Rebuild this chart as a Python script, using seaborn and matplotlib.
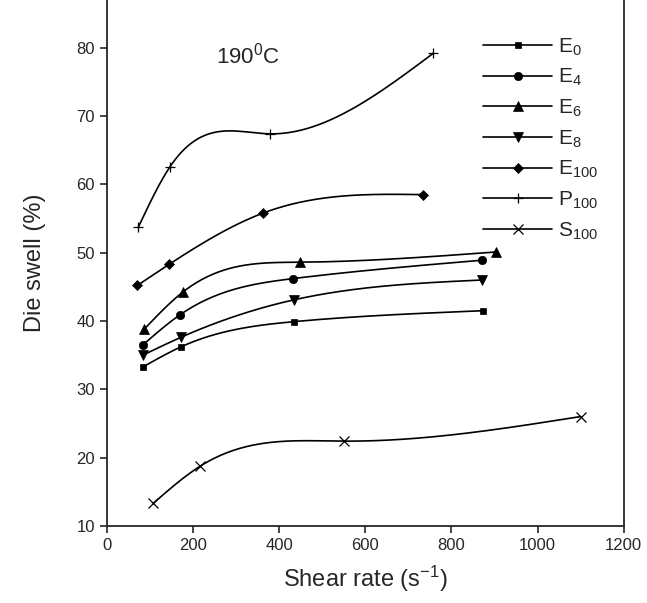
import numpy as np
import matplotlib
matplotlib.use('Agg')
import matplotlib.pyplot as plt
from matplotlib.lines import Line2D
import seaborn as sns

# data
e0_x = [85, 172, 435, 874]
e0_y = [33.3, 36.2, 39.9, 41.5]
e4_x = [84, 170, 432, 872]
e4_y = [36.5, 40.9, 46.2, 48.9]
e6_x = [87, 178, 448, 903]
e6_y = [38.8, 44.3, 48.6, 50.1]
e8_x = [84, 172, 435, 872]
e8_y = [35.0, 37.6, 43.1, 46.0]
e100_x = [71, 145, 363, 733]
e100_y = [45.2, 48.3, 55.8, 58.5]
p100_x = [73, 147, 379, 758]
p100_y = [53.7, 62.6, 67.4, 79.2]
s100_x = [108, 216, 551, 1100]
s100_y = [13.3, 18.7, 22.4, 26.0]

names = ['E$_{0}$', 'E$_{4}$', 'E$_{6}$', 'E$_{8}$', 'E$_{100}$', 'P$_{100}$', 'S$_{100}$']
xs = [e0_x, e4_x, e6_x, e8_x, e100_x, p100_x, s100_x]
ys = [e0_y, e4_y, e6_y, e8_y, e100_y, p100_y, s100_y]
markers = ['s', 'o', '^', 'v', 'D', '+', 'x']
msizes = [5, 6, 6.5, 6.5, 5.5, 7, 6.5]


def smooth(x, y, n=200):
    # natural cubic spline through the points, only for drawing the curve
    x = np.asarray(x, float)
    y = np.asarray(y, float)
    k = len(x)
    h = np.diff(x)
    A = np.zeros((k, k))
    b = np.zeros(k)
    A[0, 0] = A[-1, -1] = 1
    for i in range(1, k - 1):
        A[i, i - 1] = h[i - 1]
        A[i, i] = 2 * (h[i - 1] + h[i])
        A[i, i + 1] = h[i]
        b[i] = 6 * ((y[i + 1] - y[i]) / h[i] - (y[i] - y[i - 1]) / h[i - 1])
    M = np.linalg.solve(A, b)
    xx = np.linspace(x[0], x[-1], n)
    idx = np.clip(np.searchsorted(x, xx) - 1, 0, k - 2)
    x0, x1 = x[idx], x[idx + 1]
    hh = x1 - x0
    t0, t1 = x1 - xx, xx - x0
    yy = (M[idx] * t0**3 + M[idx + 1] * t1**3) / (6 * hh) \
        + (y[idx] / hh - M[idx] * hh / 6) * t0 \
        + (y[idx + 1] / hh - M[idx + 1] * hh / 6) * t1
    return xx, yy


sns.set_style('ticks')
plt.rcParams['font.family'] = ['Liberation Sans', 'DejaVu Sans']
plt.rcParams['mathtext.fontset'] = 'custom'
plt.rcParams['mathtext.rm'] = 'Liberation Sans'
plt.rcParams['mathtext.it'] = 'Liberation Sans'
plt.rcParams['mathtext.default'] = 'regular'

fig = plt.figure(figsize=(6.47, 6.03), dpi=100)
ax = fig.add_axes([0.165, 0.128, 0.799, 0.872])

handles = []
for x, y, m, ms, name in zip(xs, ys, markers, msizes, names):
    cx, cy = smooth(x, y)
    sns.lineplot(x=cx, y=cy, ax=ax, color='black', lw=1.2, sort=False)
    mew = 0.9 if m in ['+', 'x'] else 0.5
    ax.plot(x, y, ls='none', marker=m, ms=ms, color='black', mew=mew)
    handles.append(Line2D([], [], color='black', lw=1.2, marker=m, ms=ms, mew=mew, label=name))

ax.set_xlim(0, 1200)
ax.set_ylim(10, 87)
ax.set_xticks(range(0, 1201, 200))
ax.set_yticks(range(10, 81, 10))
ax.tick_params(labelsize=12, width=1.2, length=5, direction='out')
for s in ['left', 'bottom', 'right']:
    ax.spines[s].set_linewidth(1.3)
ax.spines['top'].set_visible(False)

ax.set_xlabel('Shear rate (s$^{-1}$)', fontsize=17, labelpad=8)
ax.set_ylabel('Die swell (%)', fontsize=17, labelpad=22)

ax.text(328, 78.9, '190$^{0}$C', fontsize=16, ha='center', va='center')

ax.legend(handles=handles, loc='upper left', bbox_to_anchor=(0.712, 0.947),
          frameon=False, fontsize=15, handlelength=3.3, labelspacing=0.45,
          handletextpad=0.3, borderaxespad=0)

fig.savefig('out.png', dpi=100)
